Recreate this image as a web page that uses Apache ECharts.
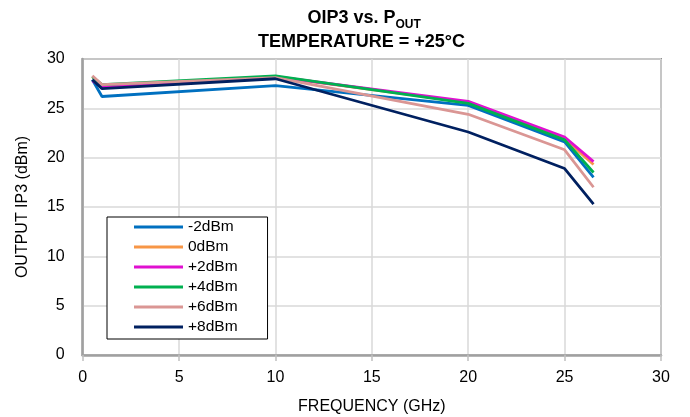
<!DOCTYPE html>
<html>
<head>
<meta charset="utf-8">
<script src="https://cdn.jsdelivr.net/npm/echarts@6/dist/echarts.min.js"></script>
<style>
html,body{margin:0;padding:0;background:#fff;}
#chart{width:690px;height:417px;}
</style>
</head>
<body>
<div id="chart"></div>
<script>
// Frequencies (GHz)
const freqs = [0.5, 1, 10, 20, 25, 26.5];
// Series names
const seriesNames = ['-2dBm', '0dBm', '+2dBm', '+4dBm', '+6dBm', '+8dBm'];
// OIP3 values (dBm)
const m2dBm = [27.9, 26.2, 27.3, 25.3, 21.6, 18.0];
const p0dBm = [28.2, 27.3, 28.2, 25.6, 21.9, 19.3];
const p2dBm = [27.8, 27.2, 28.2, 25.7, 22.1, 19.6];
const p4dBm = [28.2, 27.4, 28.3, 25.5, 21.8, 18.5];
const p6dBm = [28.3, 27.4, 28.1, 24.4, 20.8, 17.0];
const p8dBm = [27.9, 27.0, 28.0, 22.6, 18.9, 15.3];
const seriesValues = [m2dBm, p0dBm, p2dBm, p4dBm, p6dBm, p8dBm];
const colors = ['#0070C0', '#F79646', '#E010D0', '#00B050', '#DA9694', '#002060'];
// Axis ticks
const xTicks = [0, 5, 10, 15, 20, 25, 30];
const yTicks = [0, 5, 10, 15, 20, 25, 30];

const FONT = "'Liberation Sans', Arial, sans-serif";
const chart = echarts.init(document.getElementById('chart'), null, {renderer: 'canvas'});

const series = seriesNames.map((name, i) => ({
  name: name,
  type: 'line',
  data: freqs.map((f, j) => [f, seriesValues[i][j]]),
  symbol: 'none',
  showSymbol: false,
  lineStyle: {color: colors[i], width: 2.8},
  itemStyle: {color: colors[i]},
  animation: false,
  z: 3 + i
}));

chart.setOption({
  animation: false,
  backgroundColor: '#fff',
  graphic: [
    {type: 'text', left: 307.5, top: 9, style: {text: 'OIP3 vs. P', font: 'bold 18px ' + FONT, fill: '#000'}},
    {type: 'text', left: 395.5, top: 19, style: {text: 'OUT', font: 'bold 12px ' + FONT, fill: '#000'}},
    {type: 'text', left: 258, top: 33, style: {text: 'TEMPERATURE = +25°C', font: 'bold 18px ' + FONT, fill: '#000'}}
  ],
  grid: {
    left: 82.7, right: 29, top: 59, bottom: 62,
    containLabel: false,
    outerBoundsMode: 'none',
    show: true, borderColor: '#8f8f8f', borderWidth: 2
  },
  legend: {
    orient: 'vertical',
    left: 107, top: 217,
    data: seriesNames,
    icon: 'rect',
    itemWidth: 49, itemHeight: 3, itemGap: 4,
    padding: [2, 30, 4, 27],
    borderColor: '#000', borderWidth: 1,
    backgroundColor: '#fff',
    textStyle: {fontFamily: FONT, fontSize: 15.5, color: '#000', lineHeight: 16},
    z: 10
  },
  xAxis: {
    type: 'value', min: xTicks[0], max: xTicks[xTicks.length - 1], interval: 5,
    name: 'FREQUENCY (GHz)', nameLocation: 'middle', nameGap: 44,
    nameTextStyle: {fontFamily: FONT, fontSize: 16, color: '#000'},
    axisLine: {show: true, lineStyle: {color: '#a0a0a0', width: 2.5}},
    axisTick: {show: true, length: 6, lineStyle: {color: '#c0c0c0', width: 1.5}},
    axisLabel: {fontFamily: FONT, fontSize: 16, color: '#000', margin: 15},
    splitLine: {show: true, lineStyle: {color: '#d9d9d9', width: 1.5}}
  },
  yAxis: {
    type: 'value', min: yTicks[0], max: yTicks[yTicks.length - 1], interval: 5,
    name: 'OUTPUT IP3 (dBm)', nameLocation: 'middle', nameGap: 52,
    nameTextStyle: {fontFamily: FONT, fontSize: 16, color: '#000'},
    axisLine: {show: true, lineStyle: {color: '#a0a0a0', width: 2.5}},
    axisTick: {show: false},
    axisLabel: {fontFamily: FONT, fontSize: 16, color: '#000', margin: 18},
    splitLine: {show: true, lineStyle: {color: '#d9d9d9', width: 1.5}}
  },
  series: series
});
</script>
</body>
</html>
